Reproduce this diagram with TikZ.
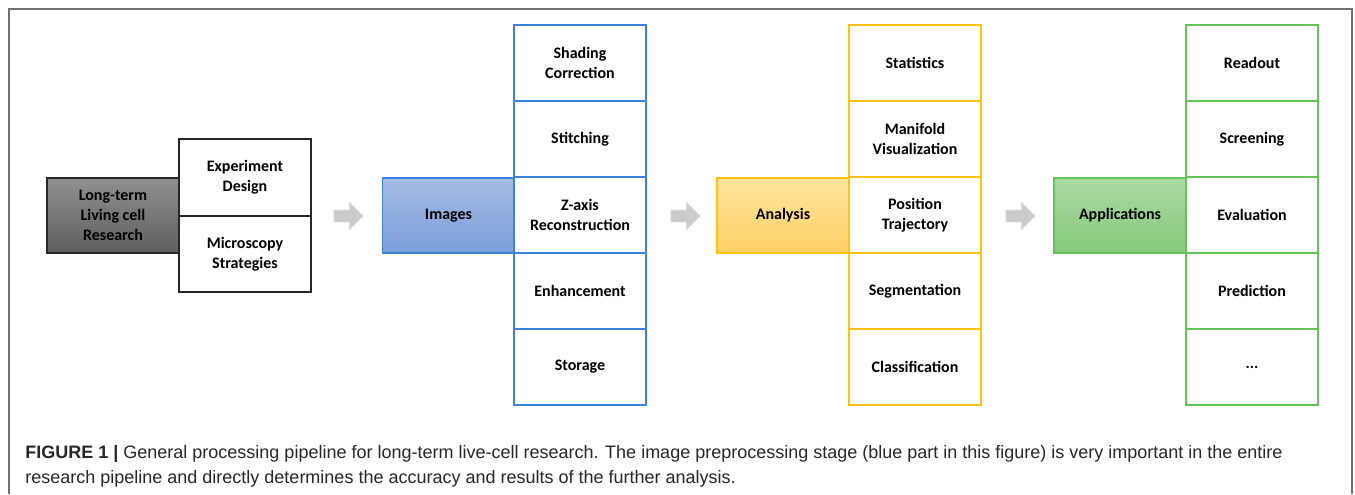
\documentclass[tikz,border=0pt]{standalone}
\usepackage{fontspec}
\usepackage{tikz}
\usetikzlibrary{shapes.arrows}

\newfontfamily\boxfont{Carlito}
\newfontfamily\capfont{Liberation Sans}

\definecolor{framegray}{HTML}{707070}
\definecolor{darktop}{HTML}{909090}
\definecolor{darkbot}{HTML}{5E5E5E}
\definecolor{bluedraw}{HTML}{3C82DC}
\definecolor{bluetop}{HTML}{A5BBE4}
\definecolor{bluebot}{HTML}{7B9FDB}
\definecolor{yellowdraw}{HTML}{FFC20E}
\definecolor{yellowtop}{HTML}{FFE49F}
\definecolor{yellowbot}{HTML}{FFD066}
\definecolor{greendraw}{HTML}{66C25A}
\definecolor{greentop}{HTML}{AADAA1}
\definecolor{greenbot}{HTML}{86C97C}
\definecolor{arrowgray}{HTML}{CACACA}

\begin{document}
\begin{tikzpicture}[x=0.5pt, y=-0.5pt,
    cell/.style={draw, fill=white, line width=0.8pt, minimum width=66pt,
      minimum height=38pt, inner sep=1pt, align=center,
      font=\boxfont\bfseries\fontsize{8}{10}\selectfont},
    stage/.style={cell, minimum height=37.5pt},
    gap/.style={single arrow, draw=arrowgray!70, fill=arrowgray, inner sep=0pt,
      text height=5.5pt, text depth=0pt, text width=0pt,
      single arrow head extend=3.75pt, minimum height=14.5pt}]
  \useasboundingbox (0,0) rectangle (1355,494);
  \draw[framegray, line width=0.8pt] (9,494) -- (9,9) -- (1352,9) -- (1352,494);

  % research design
  \node[stage, draw=black!85, top color=darktop, bottom color=darkbot] (research) at (113,215.5)
    {Long-term\\Living cell\\Research};
  \node[cell, draw=black!85, minimum height=38.25pt] (design) at (245,177.5) {Experiment\\Design};
  \node[cell, draw=black!85, minimum height=38.25pt] (strategy) at (245,254) {Microscopy\\Strategies};

  \node[gap] (gap1) at (345.5,216) {};

  % preprocessing
  \node[stage, draw=bluedraw, top color=bluetop, bottom color=bluebot] (images) at (448.5,215.5) {Images};
  \node[cell, draw=bluedraw] (shading) at (580,63) {Shading\\Correction};
  \node[cell, draw=bluedraw] (stitch) at (580,139) {Stitching};
  \node[cell, draw=bluedraw] (zaxis) at (580,215) {Z-axis\\Reconstruction};
  \node[cell, draw=bluedraw] (enhance) at (580,291) {Enhancement};
  \node[cell, draw=bluedraw] (storage) at (580,367) {Storage};

  \node[gap] (gap2) at (682.5,216) {};

  % analysis
  \node[stage, draw=yellowdraw, top color=yellowtop, bottom color=yellowbot] (analysis) at (783,215.5) {Analysis};
  \node[cell, draw=yellowdraw] (stats) at (915,63) {Statistics};
  \node[cell, draw=yellowdraw] (manifold) at (915,139) {Manifold\\Visualization};
  \node[cell, draw=yellowdraw] (traj) at (915,215) {Position\\Trajectory};
  \node[cell, draw=yellowdraw] (segment) at (915,291) {Segmentation};
  \node[cell, draw=yellowdraw] (classify) at (915,367) {Classification};

  \node[gap] (gap3) at (1017.5,216) {};

  % applications
  \node[stage, draw=greendraw, top color=greentop, bottom color=greenbot] (apps) at (1120,215.5) {Applications};
  \node[cell, draw=greendraw] (readout) at (1252,63) {Readout};
  \node[cell, draw=greendraw] (screen) at (1252,139) {Screening};
  \node[cell, draw=greendraw] (evaluate) at (1252,215) {Evaluation};
  \node[cell, draw=greendraw] (predict) at (1252,291) {Prediction};
  \node[cell, draw=greendraw] (more) at (1252,367) {...};

  % caption
  \node[anchor=base west, inner sep=0pt, align=left, text=black!85,
    font=\capfont\fontsize{9}{12.5}\selectfont] (caption) at (25,483)
    {\textbf{FIGURE 1 |} General processing pipeline for long-term live-cell research. The image preprocessing stage (blue part in this figure) is very important in the entire\\
     research pipeline and directly determines the accuracy and results of the further analysis.};
\end{tikzpicture}
\end{document}
